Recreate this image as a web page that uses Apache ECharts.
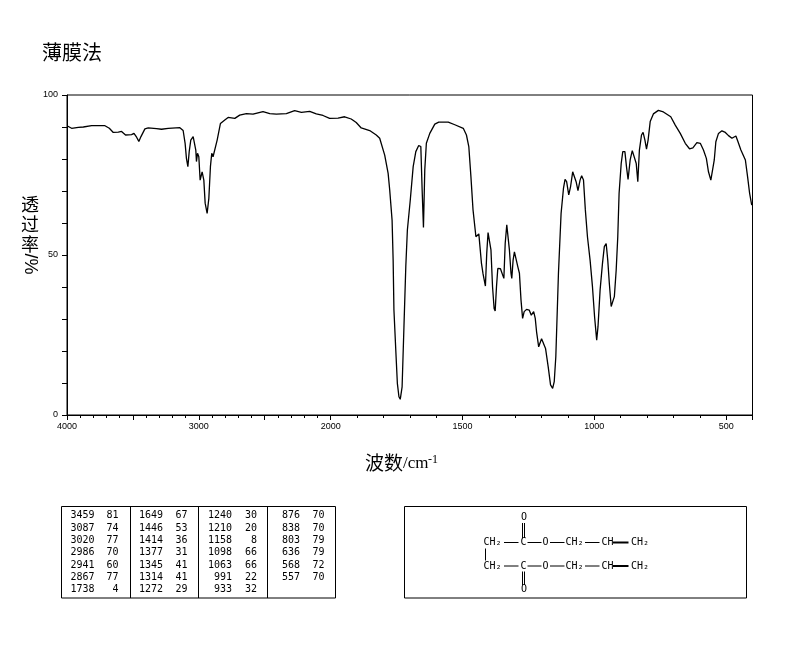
<!DOCTYPE html>
<html><head><meta charset="utf-8">
<style>html,body{margin:0;padding:0;background:#fff}#c{width:794px;height:652px}</style>
<script src="https://cdn.jsdelivr.net/npm/echarts@6/dist/echarts.min.js"></script>
</head><body><div id="c"></div>
<script>
// wavenumber (cm-1) of each curve sample, high to low
const wavenumbers = [3997,3965,3914,3876,3813,3712,3679,3649,3611,3586,3556,3510,3492,3472,3455,3439,3409,3384,3321,3283,3232,3144,3119,3104,3094,3083,3073,3061,3043,3033,3023,3018,3010,3000,2990,2975,2962,2952,2937,2924,2912,2902,2892,2879,2861,2836,2803,2778,2727,2690,2639,2589,2513,2462,2412,2336,2273,2222,2159,2109,2058,2008,1972,1947,1922,1903,1884,1852,1827,1814,1795,1782,1776,1767,1763,1760,1753,1747,1741,1736,1729,1722,1715,1709,1698,1687,1677,1666,1658,1653,1648,1643,1637,1624,1605,1590,1554,1529,1497,1485,1476,1468,1460,1449,1444,1438,1433,1428,1422,1418,1413,1408,1403,1397,1392,1386,1380,1376,1371,1366,1362,1356,1349,1343,1338,1332,1327,1322,1316,1313,1308,1303,1296,1290,1284,1278,1272,1266,1257,1247,1239,1230,1224,1219,1211,1206,1200,1194,1185,1175,1166,1158,1152,1146,1136,1126,1117,1111,1105,1097,1090,1082,1076,1069,1062,1054,1048,1041,1034,1026,1016,1007,999,991,986,978,969,962,955,949,943,936,930,924,917,911,906,898,892,884,878,872,864,856,849,841,835,829,821,815,808,802,796,788,776,757,738,710,693,674,655,639,626,611,598,586,575,567,558,551,545,539,529,516,503,491,478,463,455,444,427,418,411,403];
// transmittance (%) of each curve sample
const transmittance = [90.3,89.6,89.9,90.0,90.4,90.4,89.6,88.3,88.4,88.6,87.5,87.6,88.0,86.8,85.5,87.0,89.4,89.7,89.5,89.3,89.6,89.8,88.9,84.9,80.2,77.6,82.3,85.9,87.0,86.7,82.8,79.2,81.8,80.7,73.4,76.0,73.4,66.2,63.0,67.7,77.6,81.8,80.7,80.7,85.9,91.1,92.2,93.0,92.7,93.7,94.2,94.0,94.8,94.2,94.0,94.2,95.1,94.6,94.9,94.1,93.6,92.7,92.8,93.2,92.5,91.4,89.7,88.9,87.5,86.5,81.2,75.5,70.3,60.9,48.4,32.8,20.3,9.9,5.7,4.9,8.8,27.6,46.3,57.8,67.2,77.6,82.3,84.2,83.9,70.3,58.6,76.6,84.9,88.0,90.9,91.5,91.5,90.7,89.6,87.5,83.9,74.5,64.1,55.7,55.2,56.6,56.6,47.4,44.1,43.7,40.3,50.5,57.0,56.8,51.6,40.1,33.3,32.5,40.1,45.8,46.3,45.7,45.3,42.7,53.6,59.4,58.8,51.6,44.3,42.7,48.4,51.0,51.0,46.3,44.3,35.9,30.2,32.3,33.0,32.8,31.2,32.3,30.2,26.0,21.3,21.5,23.8,23.6,20.8,15.1,9.4,8.3,10.4,18.2,44.3,63.0,70.8,73.6,72.9,68.8,71.4,76.0,76.0,72.9,70.1,73.4,74.8,73.4,64.1,55.7,48.4,40.1,30.7,23.4,27.6,39.1,47.4,52.6,53.6,48.4,41.1,33.9,33.3,37.0,45.3,55.7,69.3,78.6,82.3,82.3,77.6,73.6,79.7,82.6,82.6,78.6,72.9,82.8,87.5,88.3,85.9,83.1,85.9,91.7,94.1,95.2,94.7,93.2,90.6,88.0,84.9,83.2,83.5,85.1,84.9,82.8,80.2,76.0,73.4,74.0,79.7,85.4,88.0,88.8,88.3,87.3,86.5,87.2,85.4,82.8,79.7,74.0,69.3,65.6];
const majorTicks = [4000,3500,3000,2500,2000,1500,1000,500,400];
const minorTicks = [3900,3800,3700,3600,3400,3300,3200,3100,2900,2800,2700,2600,2400,2300,2200,2100,1900,1800,1700,1600,1400,1300,1200,1100,900,800,700,600];
const xLabels = [4000,3000,2000,1500,1000,500];
const yLabels = [0,50,100];
const peakWn = ['3459','3087','3020','2986','2941','2867','1738','1649','1446','1414','1377','1345','1314','1272','1240','1210','1158','1098','1063','991','933','876','838','803','636','568','557'];
const peakT = ['81','74','77','70','60','77','4','67','53','36','31','41','41','29','30','20','8','66','66','22','32','70','70','79','79','72','70'];
const titleText = '薄膜法';

// The spectrum's x axis changes scale at 2000 cm-1: map wavenumber to axis position
const pos = w => w >= 2000 ? 4000 - w : 2000 + (2000 - w) * 2;
const wnOf = p => p <= 2000 ? 4000 - p : 2000 - (p - 2000) / 2;

const MONO = '10px "DejaVu Sans Mono"';
const g = [];
const txt = (text, x, y, font, align) => g.push({type:'text', silent:true, style:{text, x, y, font, fill:'#000', textAlign:align||'center', textVerticalAlign:'middle'}});
const line = (x1,y1,x2,y2,w) => g.push({type:'line', silent:true, shape:{x1,y1,x2,y2}, style:{stroke:'#000', lineWidth:w||1}});
const box = (x,y,w,h) => g.push({type:'rect', silent:true, shape:{x,y,width:w,height:h}, style:{fill:'none', stroke:'#000', lineWidth:1}});

// y axis title
const CJK = '"Noto Sans CJK SC"';
['透','过','率'].forEach((c,i)=>txt(c, 30, 204+i*20, '18px '+CJK));
g.push({type:'text', silent:true, x:30, y:264, rotation:-Math.PI/2, style:{text:'/%', font:'18px "Liberation Sans"', fill:'#000', textAlign:'center', textVerticalAlign:'middle'}});
// x axis title
txt('波', 365, 463, '19px '+CJK, 'left');
txt('数', 384, 463, '19px '+CJK, 'left');
txt('/cm', 403, 464, '17px "Liberation Serif"', 'left');
txt('-1', 428, 460, '12px "Liberation Serif"', 'left');

// peak table
box(61.5,506.5,274,91.5);
[130.5,198.5,267.5].forEach(x=>line(x,506.5,x,598));
const colR = [[94.5,118.5],[163,187.5],[232,257],[300,324.5]];
peakWn.forEach((w,i)=>{
  const c = Math.floor(i/7), r = i%7, y = 515.7 + r*12.35;
  txt(w, colR[c][0], y, MONO, 'right');
  txt(peakT[i], colR[c][1], y, MONO, 'right');
});

// structure
box(404.5,506.5,342,91.5);
[[542.5,517.5,523,538],[566,589,571.5,585]].forEach(([y,oy,b1,b2])=>{
  txt('CH₂',492.5,y,MONO);
  txt('C',523.5,y,MONO);
  txt('O',545.5,y,MONO);
  txt('CH₂',574.5,y,MONO);
  txt('CH',607.5,y,MONO);
  txt('CH₂',640,y,MONO);
  txt('O',524,oy,MONO);
  line(504,y,518.5,y);
  line(527.5,y,541.5,y);
  line(550,y,564.5,y);
  line(585,y,599.5,y);
  line(613,y,628.5,y,2);
  line(522.5,b1,522.5,b2);
  line(524.5,b1,524.5,b2);
});
line(485.5,548.5,485.5,560.5);

const chart = echarts.init(document.getElementById('c'), null, {renderer:'canvas'});
chart.setOption({
  animation:false,
  backgroundColor:'#fff',
  title:{text:titleText, left:37, top:37, textStyle:{fontFamily:'Noto Sans CJK SC', fontSize:20, fontWeight:'normal', color:'#000'}},
  grid:{left:67, right:41.5, top:95, bottom:237, show:true, borderColor:'#000', borderWidth:1, backgroundColor:'#fff'},
  xAxis:[{
    type:'value', min:0, max:pos(400), position:'bottom', splitLine:{show:false},
    axisLine:{show:true, onZero:false, lineStyle:{color:'#000', width:1}},
    axisTick:{show:true, length:5, customValues:majorTicks.map(pos), lineStyle:{color:'#000'}},
    axisLabel:{show:true, customValues:xLabels.map(pos), margin:7, hideOverlap:false, showMinLabel:true, showMaxLabel:true, fontFamily:'Liberation Sans', fontSize:9, color:'#000', formatter:v=>String(Math.round(wnOf(v)))}
  },{
    type:'value', min:0, max:pos(400), position:'bottom', splitLine:{show:false},
    axisLine:{show:false},
    axisTick:{show:true, length:3, customValues:minorTicks.map(pos), lineStyle:{color:'#000'}},
    axisLabel:{show:false}
  }],
  yAxis:{
    type:'value', min:0, max:100, interval:10, splitLine:{show:false},
    axisLine:{show:true, onZero:false, lineStyle:{color:'#000', width:1}},
    axisTick:{show:true, length:5, lineStyle:{color:'#000'}},
    axisLabel:{margin:9, fontFamily:'Liberation Sans', fontSize:9, color:'#000', showMinLabel:true, showMaxLabel:true, formatter:v=>yLabels.includes(v)?String(v):''}
  },
  series:[{
    type:'line', xAxisIndex:0, showSymbol:false, symbol:'none', smooth:false, clip:true,
    lineStyle:{color:'#000', width:1.3},
    data:wavenumbers.map((w,i)=>[pos(w),transmittance[i]])
  }],
  graphic:g
});
</script></body></html>
